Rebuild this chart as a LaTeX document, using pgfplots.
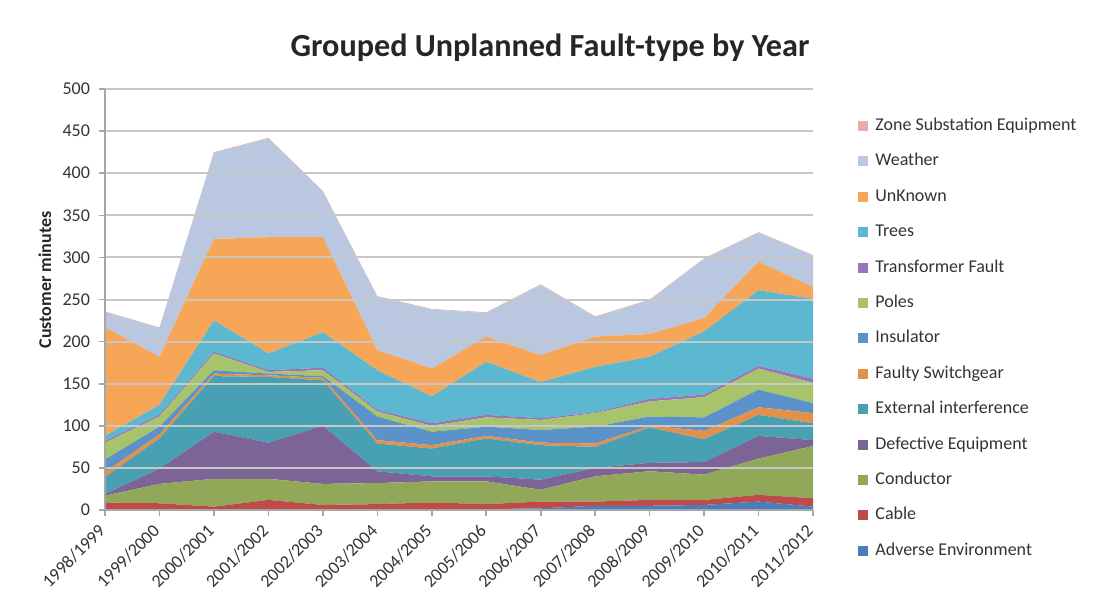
\documentclass[border=0pt]{standalone}
\usepackage{fontspec}
\setmainfont{Carlito}
\usepackage{pgfplots}
\pgfplotsset{compat=1.18}
\usepackage{pgfplotstable}

\definecolor{cAE}{HTML}{4A7EBB}
\definecolor{cCable}{HTML}{BE4B48}
\definecolor{cCond}{HTML}{90A858}
\definecolor{cDef}{HTML}{7D6496}
\definecolor{cExt}{HTML}{48A0B3}
\definecolor{cFaulty}{HTML}{E3904A}
\definecolor{cIns}{HTML}{5B92C9}
\definecolor{cPoles}{HTML}{A8C46A}
\definecolor{cTrans}{HTML}{9676B9}
\definecolor{cTrees}{HTML}{5BB8D0}
\definecolor{cUnk}{HTML}{F7A658}
\definecolor{cWeather}{HTML}{B9C7E0}
\definecolor{cZone}{HTML}{E6ADAB}

\pgfplotstableread{
x AE Cable Cond Def Ext Faulty Ins Poles Trans Trees Unk Weather Zone
0  1  8  8  2 20  6 15 20 2  6 129  18 0.8
1  1  7 23 18 36  5  9 12 2 12  57  34 0.8
2  1  3 33 56 66  3  4 20 2 37  97 102 1
3  1 11 25 43 78  2  2  2 2 20 138 117 1
4  1  5 25 69 54  3  2  7 3 42 113  54 1
5  1  6 25 14 33  4 28  6 2 47  24  63 1
6  1  8 25  6 33  4 16  7 3 32  33  70 0.8
7  1  6 27  6 45  3 11 11 3 63  30  28 0.8
8  2  8 14 12 41  3 15 12 2 43  32  83 1
9  5  5 30 10 25  4 20 16 1 54  36  23 1
10 5  7 34 10 42  2 11 18 3 50  27  40 0.8
11 6  6 30 15 27 10 16 24 3 75  16  70 0.8
12 10 8 43 27 25  9 21 25 3 90  34  34 1
13 4 10 62  7 20 12 12 24 5 95  14  37 0.8
}\data

\begin{document}
\begin{tikzpicture}
\useasboundingbox (0,0) rectangle (547.5pt,299.5pt);
\node[font=\fontsize{16.1}{18}\selectfont\bfseries, text=black!85] at (275pt,275.5pt) {Grouped Unplanned Fault-type by Year};
\begin{axis}[
  at={(52.5pt,44.5pt)}, anchor=south west,
  scale only axis, width=354pt, height=210.5pt,
  xmin=0, xmax=13, ymin=0, ymax=500,
  stack plots=y,
  area style,
  xtick={0,...,13},
  xticklabels={1998/1999,1999/2000,2000/2001,2001/2002,2002/2003,2003/2004,2004/2005,2005/2006,2006/2007,2007/2008,2008/2009,2009/2010,2010/2011,2011/2012},
  ytick={0,50,...,500},
  ymajorgrids,
  major grid style={draw=black!22, line width=1pt},
  axis lines*=left,
  axis line style={draw=black!35, line width=0.8pt},
  tick align=outside,
  major tick length=3pt,
  tick style={draw=black!35, line width=0.8pt},
  /pgf/number format/assume math mode=true,
  ticklabel style={font=\fontsize{9}{10}\selectfont, text=black!80},
  xticklabel style={yshift=-3.5pt, xshift=1pt, rotate=45, anchor=east},
  yticklabel style={xshift=-1pt},
  legend cell align=left,
  reverse legend,
  legend style={at={(1.0551,0.9430)}, anchor=north west, draw=none, fill=none,
    font=\fontsize{9}{10}\selectfont, text=black!80,
    row sep=9.2pt, column sep=3.5pt,
    nodes={inner sep=0pt, text height=6.5pt, text depth=2pt}},
  legend image code/.code={\fill[#1] (0pt,-2.5pt) rectangle (5pt,2.5pt);},
]
\addplot[fill=cAE, draw=none] table[x=x,y=AE]{\data} \closedcycle;
\addplot[fill=cCable, draw=none] table[x=x,y=Cable]{\data} \closedcycle;
\addplot[fill=cCond, draw=none] table[x=x,y=Cond]{\data} \closedcycle;
\addplot[fill=cDef, draw=none] table[x=x,y=Def]{\data} \closedcycle;
\addplot[fill=cExt, draw=none] table[x=x,y=Ext]{\data} \closedcycle;
\addplot[fill=cFaulty, draw=none] table[x=x,y=Faulty]{\data} \closedcycle;
\addplot[fill=cIns, draw=none] table[x=x,y=Ins]{\data} \closedcycle;
\addplot[fill=cPoles, draw=none] table[x=x,y=Poles]{\data} \closedcycle;
\addplot[fill=cTrans, draw=none] table[x=x,y=Trans]{\data} \closedcycle;
\addplot[fill=cTrees, draw=none] table[x=x,y=Trees]{\data} \closedcycle;
\addplot[fill=cUnk, draw=none] table[x=x,y=Unk]{\data} \closedcycle;
\addplot[fill=cWeather, draw=none] table[x=x,y=Weather]{\data} \closedcycle;
\addplot[fill=cZone, draw=none] table[x=x,y=Zone]{\data} \closedcycle;
\legend{Adverse Environment,Cable,Conductor,Defective Equipment,External interference,Faulty Switchgear,Insulator,Poles,Transformer Fault,Trees,UnKnown,Weather,Zone Substation Equipment}
\end{axis}
\node[font=\fontsize{9}{10}\selectfont\bfseries, text=black!85, rotate=90] at (22.5pt,159.5pt) {Customer minutes};
\end{tikzpicture}
\end{document}
